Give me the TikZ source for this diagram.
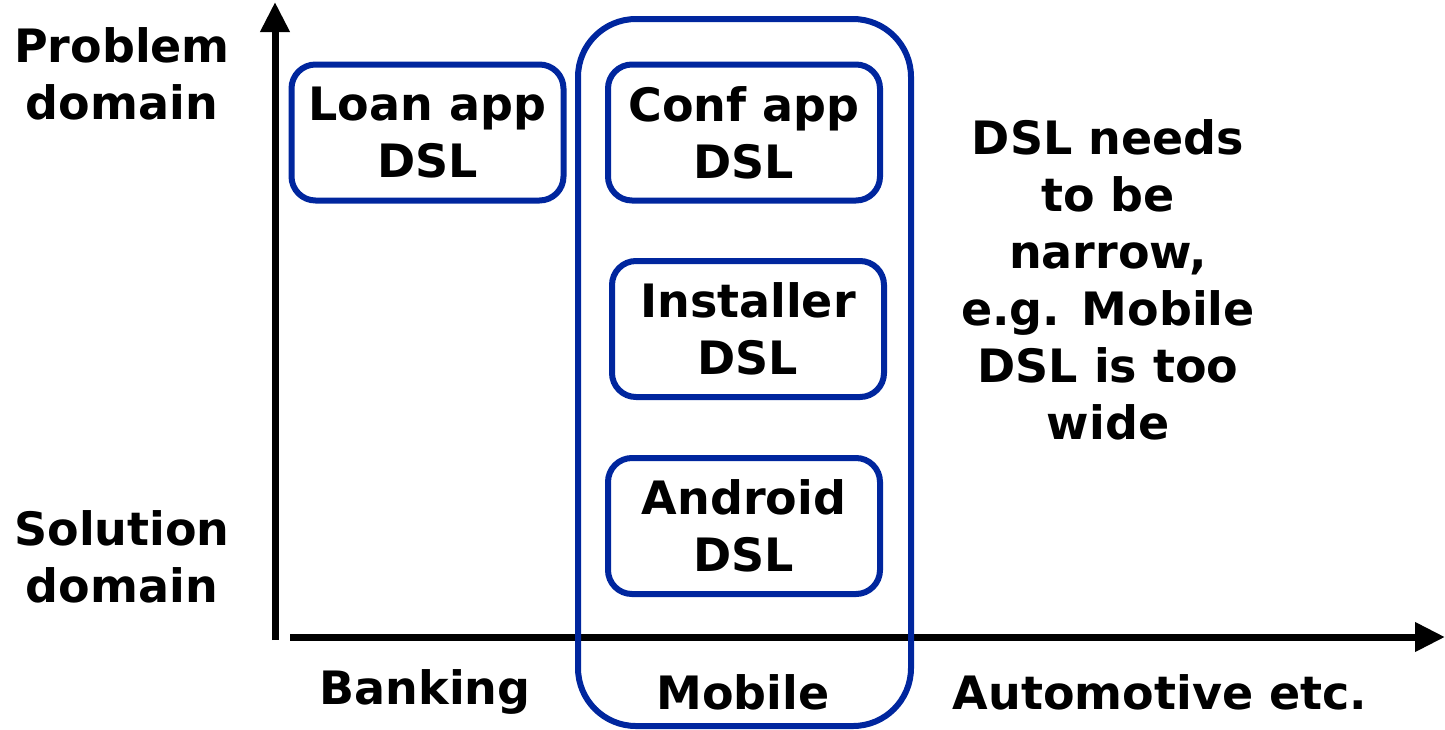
\documentclass[tikz,border=0pt]{standalone}
\usepackage{fontspec}
\setmainfont{DejaVu Sans}
\usetikzlibrary{arrows.meta}
\definecolor{dslblue}{RGB}{0,38,158}
\begin{document}
\begin{tikzpicture}[x=1pt,y=-1pt,
  every node/.style={font=\bfseries\fontsize{46}{57}\selectfont, align=center, inner sep=0pt},
  dslbox/.style={draw=dslblue, line width=6pt, rounded corners=24pt, minimum width=272pt, minimum height=136pt},
  axis/.style={line width=7pt, -{Triangle[length=30pt,width=28pt]}}]
\useasboundingbox (0,0) rectangle (1445,729);
% axes
\coordinate (vbot) at (275,640);
\coordinate (vtop) at (275,2);
\coordinate (hleft) at (290,637);
\coordinate (hright) at (1445,637);
\draw[axis] (vbot) -- (vtop);
\draw[axis] (hleft) -- (hright);
% mobile group
\node[draw=dslblue, line width=6pt, rounded corners=58pt, minimum width=333pt, minimum height=707pt] (mobilegrp) at (744.5,372.5) {};
% boxes
\node[dslbox] (loan) at (427.5,132.5) {Loan app\\DSL};
\node[dslbox] (conf) at (744,132.5) {Conf app\\DSL};
\node[dslbox] (inst) at (748,329) {Installer\\DSL};
\node[dslbox] (andr) at (744,526) {Android\\DSL};
% axis labels
\node (prob) at (122,74) {Problem\\domain};
\node (sol) at (122,557) {Solution\\domain};
\node (bank) at (425,692) {Banking};
\node (mob) at (743,692) {Mobile};
\node (auto) at (1160,692) {Automotive etc.};
% note
\node (note) at (1108,280) {DSL needs\\to be\\narrow,\\e.g. Mobile\\DSL is too\\wide};
\end{tikzpicture}
\end{document}
